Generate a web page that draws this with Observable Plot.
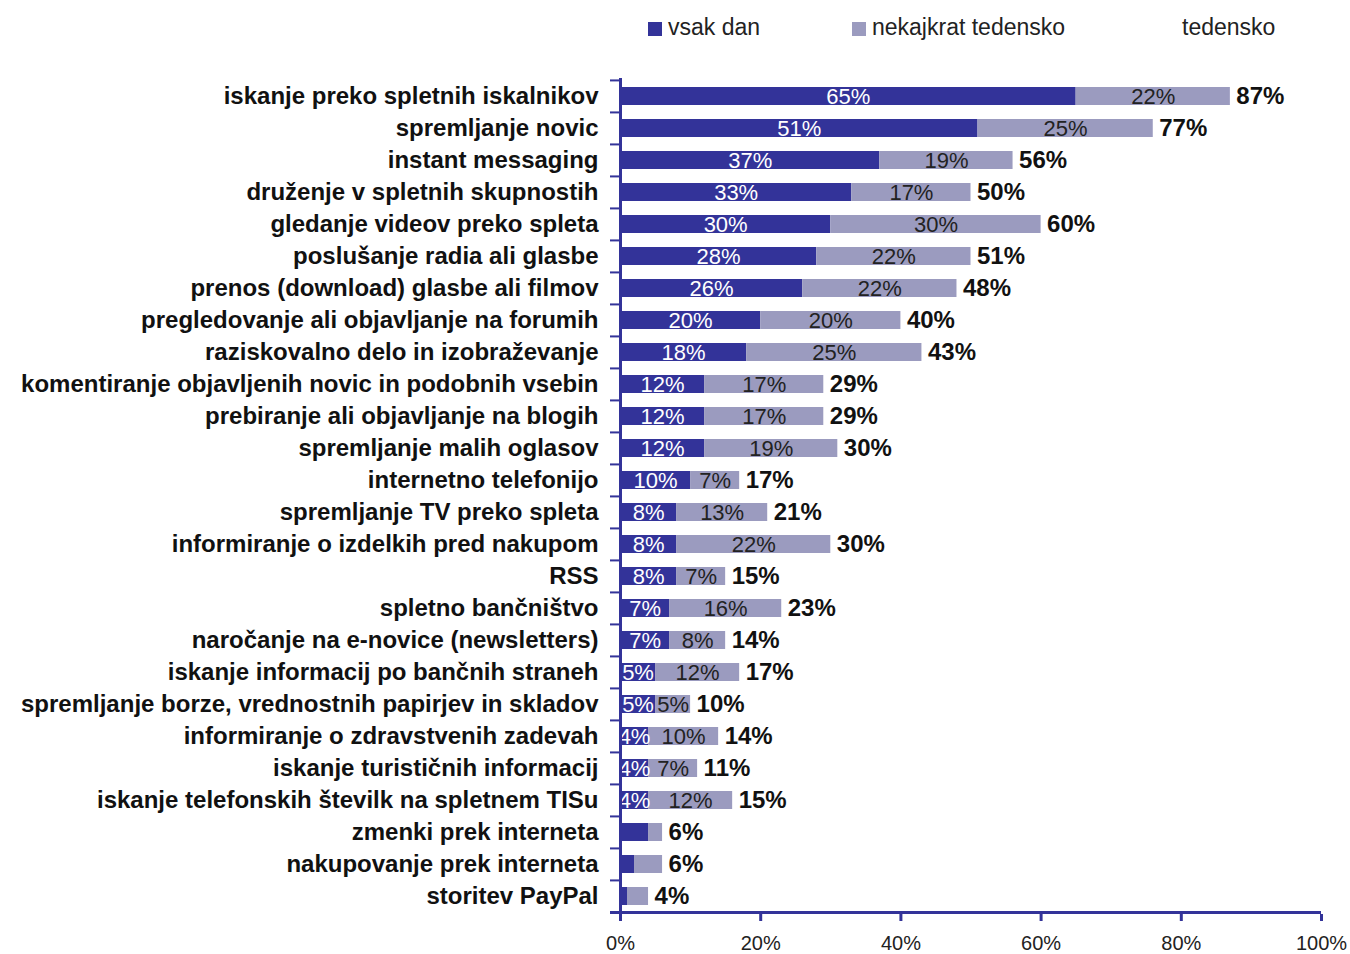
<!DOCTYPE html>
<html>
<head>
<meta charset="utf-8">
<script src="https://cdn.jsdelivr.net/npm/d3@7"></script>
<script src="https://cdn.jsdelivr.net/npm/@observablehq/plot@0.6"></script>
<style>
  body { margin: 0; background: #fff; font-family: "Liberation Sans", Arial, sans-serif; }
  #legend { position: relative; width: 1350px; height: 55px; font-size: 23px; color: #222; }
  #legend .item { position: absolute; top: 12px; line-height: 30px; white-space: nowrap; }
  #legend .sw { display: inline-block; width: 14px; height: 14px; margin-right: 6px; vertical-align: -1px; }
</style>
</head>
<body>
<div id="legend"></div>
<div id="chart"></div>
<script>
const categories = [
  "iskanje preko spletnih iskalnikov",
  "spremljanje novic",
  "instant messaging",
  "druženje v spletnih skupnostih",
  "gledanje videov preko spleta",
  "poslušanje radia ali glasbe",
  "prenos (download) glasbe ali filmov",
  "pregledovanje ali objavljanje na forumih",
  "raziskovalno delo in izobraževanje",
  "komentiranje objavljenih novic in podobnih vsebin",
  "prebiranje ali objavljanje na blogih",
  "spremljanje malih oglasov",
  "internetno telefonijo",
  "spremljanje TV preko spleta",
  "informiranje o izdelkih pred nakupom",
  "RSS",
  "spletno bančništvo",
  "naročanje na e-novice (newsletters)",
  "iskanje informacij po bančnih straneh",
  "spremljanje borze, vrednostnih papirjev in skladov",
  "informiranje o zdravstvenih zadevah",
  "iskanje turističnih informacij",
  "iskanje telefonskih številk na spletnem TISu",
  "zmenki prek interneta",
  "nakupovanje prek interneta",
  "storitev PayPal"
];
const seriesNames = ["vsak dan", "nekajkrat tedensko", "tedensko"];
const daily  = [65,51,37,33,30,28,26,20,18,12,12,12,10,8,8,8,7,7,5,5,4,4,4,4,2,1];
const weekly = [22,25,19,17,30,22,22,20,25,17,17,19,7,13,22,7,16,8,12,5,10,7,12,2,4,3];
const totals = [87,77,56,50,60,51,48,40,43,29,29,30,17,21,30,15,23,14,17,10,14,11,15,6,6,4];
const showSegmentLabels = categories.map((c, i) => i < 23);
const xTicks = [0, 20, 40, 60, 80, 100];

const colors = ["#333399", "#9b9bbf"];

// legend
const legend = document.getElementById("legend");
const legendPos = [648, 852, 1182];
seriesNames.forEach((s, i) => {
  const el = document.createElement("div");
  el.className = "item";
  el.style.left = legendPos[i] + "px";
  if (i < 2) {
    const sw = document.createElement("span");
    sw.className = "sw";
    sw.style.background = colors[i];
    el.appendChild(sw);
  }
  el.appendChild(document.createTextNode(s));
  legend.appendChild(el);
});

const long = [];
categories.forEach((c, i) => {
  long.push({cat: c, series: seriesNames[0], value: daily[i]});
  long.push({cat: c, series: seriesNames[1], value: weekly[i]});
});
const rows = categories.map((c, i) => ({cat: c, daily: daily[i], weekly: weekly[i], total: totals[i], show: showSegmentLabels[i]}));

const W = 1350, H = 899, mt = 23, mb = 40, ml = 620, mr = 29;
const step = (H - mt - mb) / categories.length;
const font = "Liberation Sans, Arial, sans-serif";

const chart = Plot.plot({
  width: W, height: H,
  marginTop: mt, marginBottom: mb, marginLeft: ml, marginRight: mr,
  style: {fontFamily: font, background: "#fff"},
  x: {domain: [0, 100], axis: null},
  y: {domain: categories, paddingInner: 0.44, paddingOuter: 0.22, axis: null},
  color: {domain: seriesNames.slice(0, 2), range: colors},
  marks: [
    Plot.barX(long, Plot.stackX({x: "value", y: "cat", fill: "series"})),
    Plot.text(rows.filter(d => d.show), {x: d => d.daily / 2, y: "cat", text: d => d.daily + "%", fill: "#fff", fontSize: 22}),
    Plot.text(rows.filter(d => d.show), {x: d => d.daily + d.weekly / 2, y: "cat", text: d => d.weekly + "%", fill: "#222", fontSize: 22}),
    Plot.text(rows, {x: d => d.daily + d.weekly, y: "cat", text: d => d.total + "%", dx: 6, textAnchor: "start", fill: "#111", fontSize: 24, fontWeight: "bold"}),
    Plot.text(rows, {x: 0, y: "cat", text: "cat", dx: -22, textAnchor: "end", fill: "#111", fontSize: 24, fontWeight: "bold"}),
    Plot.ruleY(categories, {y: d => d, x1: 0, x2: 0, insetLeft: -10, dy: -step / 2, stroke: "#333399", strokeWidth: 2}),
    Plot.ruleY(categories.slice(-1), {y: d => d, x1: 0, x2: 100, insetLeft: -10, dy: step / 2, stroke: "#333399", strokeWidth: 3}),
    Plot.ruleX([0], {stroke: "#333399", strokeWidth: 3}),
    Plot.axisX({ticks: xTicks, tickFormat: d => d + "%", tickSize: 7, tickPadding: 14, stroke: "#333399", strokeWidth: 3, fill: "#222", fontSize: 20, label: null})
  ]
});
document.getElementById("chart").appendChild(chart);
</script>
</body>
</html>
